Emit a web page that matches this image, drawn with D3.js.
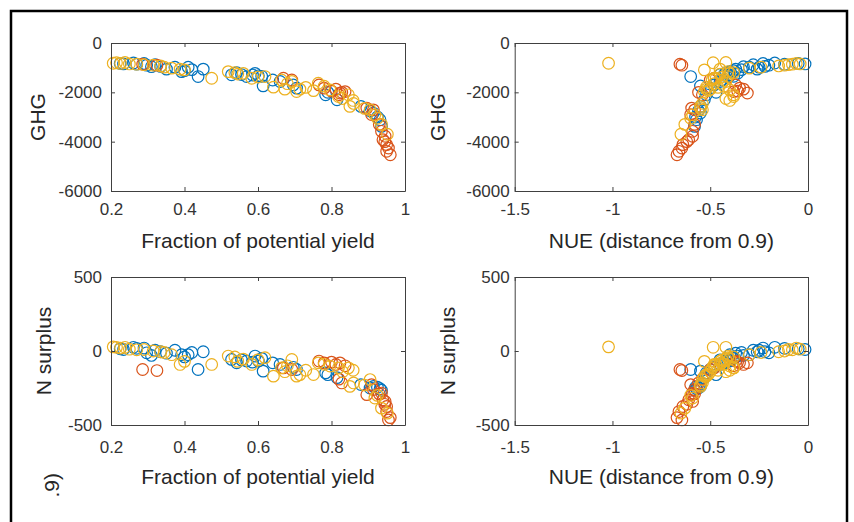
<!DOCTYPE html>
<html>
<head>
<meta charset="utf-8">
<script src="https://cdn.jsdelivr.net/npm/d3@7"></script>
<style>
  body { margin: 0; background: #fff; }
  svg { display: block; }
</style>
</head>
<body>
<div id="chart"></div>
<script>
// series colours (matlab default order)
var seriesColors = ["#0072BD", "#D95319", "#EDB120"];

// each row: [fraction of potential yield, NUE distance from 0.9, GHG, N surplus]
var blueRows = [
  [0.234, -0.015, -850, 10], [0.261, -0.17, -810, 25], [0.290, -0.23, -830, 20],
  [0.297, -0.20, -900, -12], [0.310, -0.33, -960, -30], [0.320, -0.28, -880, 5],
  [0.351, -0.37, -1060, -15], [0.374, -0.25, -980, 5], [0.392, -0.40, -1160, -25],
  [0.410, -0.30, -980, -25], [0.420, -0.34, -1080, -10], [0.437, -0.60, -1360, -125],
  [0.451, -0.26, -1060, -5], [0.528, -0.40, -1290, -57], [0.542, -0.42, -1200, -80],
  [0.569, -0.41, -1360, -68], [0.592, -0.36, -1230, -34], [0.601, -0.40, -1330, -68],
  [0.614, -0.55, -1740, -136], [0.660, -0.45, -1560, -91], [0.696, -0.48, -1700, -110],
  [0.705, -0.50, -1830, -125], [0.784, -0.52, -2100, -148], [0.815, -0.53, -2300, -180],
  [0.880, -0.55, -2570, -227], [0.914, -0.55, -2840, -240], [0.932, -0.57, -3110, -255],
  [0.936, -0.58, -3380, -265],
  [0.225, -0.05, -830, 15], [0.270, -0.12, -860, 18], [0.335, -0.22, -950, -5],
  [0.400, -0.38, -1120, -40], [0.555, -0.45, -1280, -60], [0.585, -0.43, -1300, -75],
  [0.610, -0.38, -1350, -50], [0.640, -0.44, -1500, -80], [0.790, -0.47, -2000, -160],
  [0.905, -0.56, -2750, -250], [0.925, -0.575, -3000, -245]
];
var redRows = [
  [0.286, -0.655, -860, -125], [0.325, -0.645, -900, -132], [0.669, -0.48, -1430, -114],
  [0.692, -0.50, -1500, -125], [0.766, -0.37, -1700, -68], [0.780, -0.35, -1830, -80],
  [0.812, -0.33, -1870, -91], [0.823, -0.31, -2030, -80], [0.837, -0.38, -1970, -100],
  [0.828, -0.56, -2000, -216], [0.896, -0.595, -2640, -295], [0.909, -0.60, -2900, -227],
  [0.914, -0.58, -2710, -260], [0.936, -0.59, -3580, -284], [0.946, -0.59, -3780, -341],
  [0.940, -0.61, -3920, -330], [0.950, -0.64, -4120, -375], [0.950, -0.66, -4390, -409],
  [0.960, -0.67, -4530, -450], [0.955, -0.645, -4260, -466],
  [0.800, -0.36, -1950, -75], [0.820, -0.54, -2100, -190], [0.930, -0.58, -3300, -290],
  [0.945, -0.62, -4000, -360]
];
var yellowRows = [
  [0.206, -1.02, -820, 28], [0.215, -0.485, -800, 25], [0.238, -0.42, -790, 25],
  [0.250, -0.04, -850, 12], [0.270, -0.08, -860, 8], [0.315, -0.12, -900, 0],
  [0.335, -0.15, -930, -5], [0.365, -0.30, -1020, -25], [0.388, -0.45, -1060, -91],
  [0.474, -0.48, -1430, -91], [0.519, -0.41, -1160, -34], [0.537, -0.38, -1200, -40],
  [0.560, -0.40, -1230, -55], [0.583, -0.47, -1430, -91], [0.619, -0.41, -1360, -45],
  [0.642, -0.52, -1790, -170], [0.664, -0.49, -1500, -114], [0.673, -0.50, -1870, -140],
  [0.692, -0.42, -1560, -57], [0.705, -0.53, -1970, -170], [0.714, -0.52, -1870, -160],
  [0.751, -0.51, -1930, -159], [0.764, -0.44, -1630, -80], [0.796, -0.40, -1900, -102],
  [0.819, -0.38, -2170, -114], [0.846, -0.38, -2100, -114], [0.859, -0.40, -2330, -130],
  [0.850, -0.55, -2570, -239], [0.860, -0.54, -2450, -216], [0.905, -0.54, -2710, -193],
  [0.918, -0.59, -2910, -318], [0.936, -0.63, -3300, -386], [0.952, -0.65, -3700, -420],
  [0.226, -0.06, -830, 20], [0.290, -0.10, -880, 10], [0.345, -0.24, -980, -10],
  [0.400, -0.53, -1090, -70], [0.545, -0.45, -1260, -70], [0.600, -0.44, -1380, -60],
  [0.680, -0.48, -1650, -100], [0.730, -0.46, -1800, -130], [0.780, -0.43, -1750, -90],
  [0.830, -0.42, -2250, -140], [0.890, -0.55, -2650, -230], [0.925, -0.60, -3050, -300]
];
var allSeries = [blueRows, redRows, yellowRows];

// tick values
var yieldTicks = [0.2, 0.4, 0.6, 0.8, 1];
var nueTicks = [-1.5, -1, -0.5, 0];
var ghgTicks = [0, -2000, -4000, -6000];
var nsurTicks = [500, 0, -500];

var font = "'Liberation Sans', Arial, Helvetica, sans-serif";

var svg = d3.select("#chart").append("svg")
  .attr("width", 854)
  .attr("height", 522);

// outer frame (bottom edge is cut off in the picture)
svg.append("rect")
  .attr("x", 11).attr("y", 11)
  .attr("width", 836).attr("height", 600)
  .attr("fill", "none")
  .attr("stroke", "#000")
  .attr("stroke-width", 2.5);

var panels = [
  {xi: 0, yi: 2, left: 111, right: 405, top: 43, bottom: 191, xDomain: [0.2, 1], yDomain: [-6000, 0],
   xTicks: yieldTicks, yTicks: ghgTicks, xLabel: "Fraction of potential yield", yLabel: "GHG",
   xPad: 12, yPad: 9, xLabelY: 248, yLabelX: 45},
  {xi: 1, yi: 2, left: 514.7, right: 808, top: 43, bottom: 191, xDomain: [-1.5, 0], yDomain: [-6000, 0],
   xTicks: nueTicks, yTicks: ghgTicks, xLabel: "NUE (distance from 0.9)", yLabel: "GHG",
   xPad: 12, yPad: 5, xLabelY: 248, yLabelX: 445},
  {xi: 0, yi: 3, left: 111, right: 405, top: 277, bottom: 425, xDomain: [0.2, 1], yDomain: [-500, 500],
   xTicks: yieldTicks, yTicks: nsurTicks, xLabel: "Fraction of potential yield", yLabel: "N surplus",
   xPad: 16, yPad: 9, xLabelY: 484, yLabelX: 51},
  {xi: 1, yi: 3, left: 514.7, right: 808, top: 277, bottom: 425, xDomain: [-1.5, 0], yDomain: [-500, 500],
   xTicks: nueTicks, yTicks: nsurTicks, xLabel: "NUE (distance from 0.9)", yLabel: "N surplus",
   xPad: 16, yPad: 5, xLabelY: 484, yLabelX: 455}
];

function styleAxis(g) {
  g.attr("font-family", font).attr("font-size", "17px");
  g.selectAll("path.domain").attr("stroke", "#404040").attr("stroke-width", 1);
  g.selectAll(".tick line").attr("stroke", "#404040");
  g.selectAll(".tick text").attr("fill", "#333");
}

panels.forEach(function(p) {
  var x = d3.scaleLinear().domain(p.xDomain).range([p.left, p.right]);
  var y = d3.scaleLinear().domain(p.yDomain).range([p.bottom, p.top]);

  // markers first, box on top
  allSeries.forEach(function(rows, si) {
    svg.append("g").selectAll("circle")
      .data(rows)
      .enter()
      .append("circle")
        .attr("cx", function(d) { return x(d[p.xi]); })
        .attr("cy", function(d) { return y(d[p.yi]); })
        .attr("r", 5.8)
        .attr("fill", "none")
        .attr("stroke", seriesColors[si])
        .attr("stroke-width", 1.2);
  });

  var fmt = function(d) { return String(d); };

  svg.append("g")
    .attr("transform", "translate(0," + p.bottom + ")")
    .call(d3.axisBottom(x).tickValues(p.xTicks).tickFormat(fmt)
      .tickSizeInner(-4).tickSizeOuter(0).tickPadding(p.xPad))
    .call(styleAxis);
  svg.append("g")
    .attr("transform", "translate(0," + p.top + ")")
    .call(d3.axisTop(x).tickValues(p.xTicks).tickFormat("")
      .tickSizeInner(-4).tickSizeOuter(0))
    .call(styleAxis);
  svg.append("g")
    .attr("transform", "translate(" + p.left + ",0)")
    .call(d3.axisLeft(y).tickValues(p.yTicks).tickFormat(fmt)
      .tickSizeInner(-4).tickSizeOuter(0).tickPadding(p.yPad))
    .call(styleAxis);
  svg.append("g")
    .attr("transform", "translate(" + p.right + ",0)")
    .call(d3.axisRight(y).tickValues(p.yTicks).tickFormat("")
      .tickSizeInner(-4).tickSizeOuter(0))
    .call(styleAxis);

  // axis labels
  svg.append("text")
    .attr("x", (p.left + p.right) / 2)
    .attr("y", p.xLabelY)
    .attr("text-anchor", "middle")
    .attr("font-family", font)
    .attr("font-size", "21px")
    .attr("fill", "#262626")
    .text(p.xLabel);

  svg.append("text")
    .attr("transform", "translate(" + p.yLabelX + "," + ((p.top + p.bottom) / 2) + ") rotate(-90)")
    .attr("text-anchor", "middle")
    .attr("font-family", font)
    .attr("font-size", "21px")
    .attr("fill", "#262626")
    .text(p.yLabel);
});

// visible tail of a rotated label belonging to a panel further down
svg.append("text")
  .attr("transform", "translate(58.5,473) rotate(-90)")
  .attr("text-anchor", "end")
  .attr("font-family", font)
  .attr("font-size", "21px")
  .attr("fill", "#262626")
  .text(".9)");
</script>
</body>
</html>
